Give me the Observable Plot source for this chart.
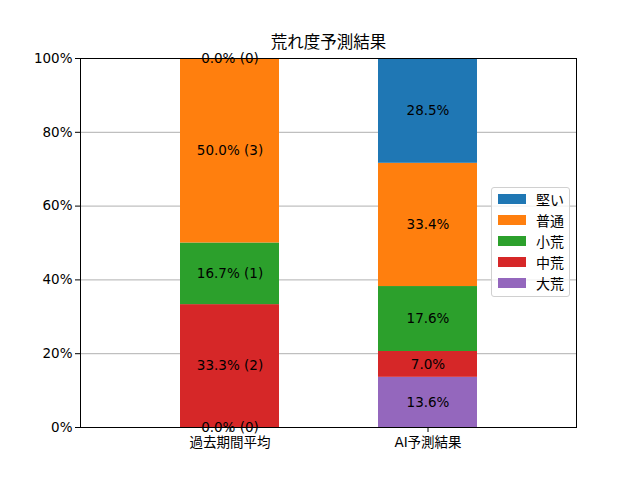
<!DOCTYPE html>
<html>
<head>
<meta charset="utf-8">
<script src="https://cdn.jsdelivr.net/npm/d3@7"></script>
<script src="https://cdn.jsdelivr.net/npm/@observablehq/plot@0.6"></script>
<style>
  body { margin: 0; background: #fff; }
  #wrap { position: relative; width: 640px; height: 480px; font-family: "DejaVu Sans", "Noto Sans CJK JP", sans-serif; }
  #legend { position: absolute; left: 491px; top: 187px; width: 79px; height: 110px; border: 1px solid #d0d0d0; border-radius: 3px; background: rgba(255,255,255,0.8); box-sizing: border-box; padding-top: 0px; }
  .item { display: flex; align-items: center; height: 21.2px; font-size: 14px; font-family: "Noto Sans CJK JP", sans-serif; }
  .sw { width: 28px; height: 10px; margin-left: 6px; margin-right: 10px; }
</style>
</head>
<body>
<div id="wrap"><div id="legend"></div></div>
<script>
const categories = ["過去期間平均", "AI予測結果"];
const levels = ["大荒", "中荒", "小荒", "普通", "堅い"];
const colors = ["#9467bd", "#d62728", "#2ca02c", "#ff7f0e", "#1f77b4"];
const pastValues = [0.0, 33.3, 16.7, 50.0, 0.0];
const pastCounts = [0, 2, 1, 3, 0];
const aiValues = [13.6, 7.0, 17.6, 33.4, 28.5];
const yTicks = [0, 20, 40, 60, 80, 100];
const title = "荒れ度予測結果";

const rows = [];
function addBar(cat, values, counts) {
  let acc = 0;
  values.forEach((v, i) => {
    const y1 = acc, y2 = acc + v;
    acc = y2;
    rows.push({
      cat, level: levels[i], y1, y2, mid: (y1 + y2) / 2,
      label: counts ? `${v.toFixed(1)}% (${counts[i]})` : `${v.toFixed(1)}%`
    });
  });
}
addBar(categories[0], pastValues, pastCounts);
addBar(categories[1], aiValues, null);

const chart = Plot.plot({
  width: 640, height: 480,
  marginLeft: 80, marginRight: 64, marginTop: 58, marginBottom: 53,
  style: { fontFamily: '"DejaVu Sans", "Noto Sans CJK JP", sans-serif', fontSize: "13.5px", color: "black", background: "white" },
  x: { domain: categories, paddingInner: 0.5, paddingOuter: 0.5, label: null },
  y: { domain: [0, 100], clamp: true, label: null },
  color: { domain: levels, range: colors },
  marks: [
    Plot.gridY([20, 40, 60, 80], { stroke: "#b0b0b0", strokeOpacity: 1 }),
    Plot.rectY(rows, { x: "cat", y1: "y1", y2: "y2", fill: "level" }),
    Plot.text(rows, { x: "cat", y: "mid", text: "label", fill: "black" }),
    Plot.frame({ stroke: "black" }),
    Plot.axisY(yTicks, { tickSize: 5, tickFormat: d => d + "%", label: null, tickPadding: 3 }),
    Plot.axisX({ tickSize: 5, label: null, tickPadding: 5 }),
    Plot.text([title], { frameAnchor: "top", dy: -22, fontSize: 16.5, fill: "black" })
  ]
});
document.getElementById("wrap").prepend(chart);

const legend = document.getElementById("legend");
levels.slice().reverse().forEach((lv) => {
  const d = document.createElement("div");
  d.className = "item";
  const sw = document.createElement("div");
  sw.className = "sw";
  sw.style.background = colors[levels.indexOf(lv)];
  const t = document.createElement("span");
  t.textContent = lv;
  d.append(sw, t);
  legend.append(d);
});
</script>
</body>
</html>
